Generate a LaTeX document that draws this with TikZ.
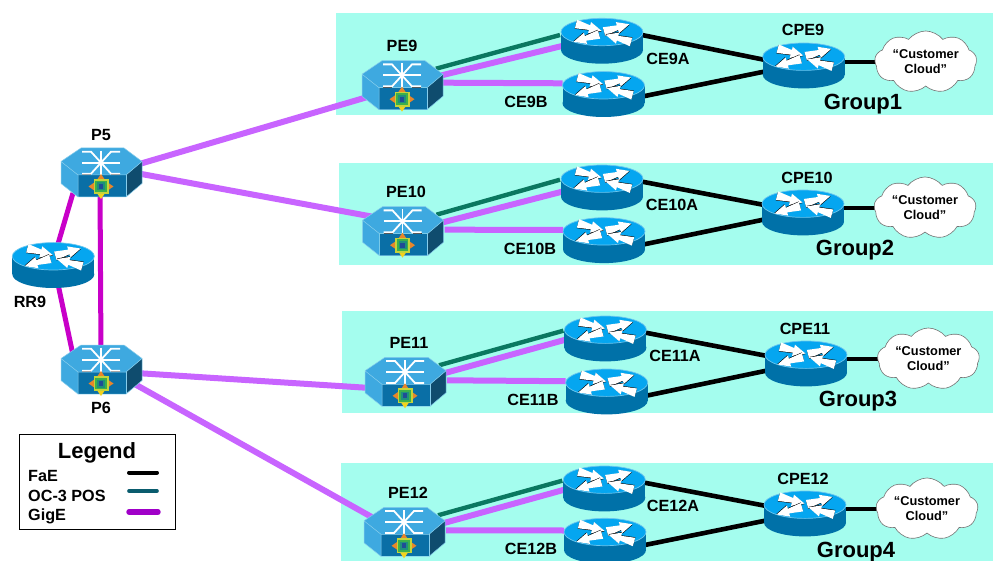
\documentclass[tikz,border=0pt]{standalone}
\usepackage{fontspec}
\setmainfont{Liberation Sans}
\usetikzlibrary{shapes.symbols}
\definecolor{panel}{HTML}{A4FDEE}
\definecolor{hextop}{HTML}{3EA9E0}
\definecolor{hexfront}{HTML}{0A6FA6}
\definecolor{hexside}{HTML}{0F4C6E}
\definecolor{hexedge}{HTML}{86CDEC}
\definecolor{rtop}{HTML}{05A6F0}
\definecolor{rside}{HTML}{0071A8}
\definecolor{redge}{HTML}{6CC6EE}
\definecolor{gige}{HTML}{C864FF}
\definecolor{core}{HTML}{C800C8}
\definecolor{oc}{HTML}{0A7860}
\definecolor{legoc}{HTML}{0A5C6E}
\definecolor{leggig}{HTML}{A000C8}
\definecolor{icona}{HTML}{C4D43A}
\definecolor{iconb}{HTML}{3CB04A}
\definecolor{iconc}{HTML}{1E8F7C}
\definecolor{icond}{HTML}{1F4C96}
\definecolor{icone}{HTML}{E8862A}
\definecolor{iconf}{HTML}{F2D21E}
\tikzset{
  x=1pt,y=-1pt,
  anchorbox/.style={inner sep=0pt,outer sep=0pt,minimum width=80pt,minimum height=48pt},
  lbl/.style={font=\fontsize{16.2}{18}\selectfont\bfseries,inner sep=0pt},
  grouplbl/.style={font=\fontsize{22}{24}\selectfont\bfseries,inner sep=0pt},
  legtxt/.style={font=\fontsize{16.2}{18}\selectfont\bfseries,inner sep=0pt,anchor=west},
  fae/.style={line width=4.6pt,black},
  posl/.style={line width=4.4pt,oc},
  gigl/.style={line width=6pt,gige},
  corel/.style={line width=5pt,core},
  custcloud/.style={cloud,cloud puffs=9,cloud puff arc=105,aspect=1.9,draw=black!55,line width=.6pt,fill=white,
    minimum width=102pt,minimum height=56pt,inner sep=0pt,align=center,
    font=\fontsize{12.8}{15}\selectfont\bfseries},
  rarrow/.pic={
    \fill[black] (0,-3.9) -- (14.4,-1.9) -- (14.4,-5.3) -- (26.6,.5) -- (14.4,6.3) -- (14.4,2.9) -- (0,4.9) -- cycle;
    \fill[white] (0,-4.4) -- (14,-2.4) -- (14,-5.8) -- (26.4,0) -- (14,5.8) -- (14,2.4) -- (0,4.4) -- cycle;
  },
  routerdev/.pic={
    \fill[rside] (-41,0) rectangle (41,18);
    \fill[rside] (0,18) ellipse[x radius=41,y radius=13.7];
    \fill[rtop,draw=redge,line width=.7pt] (0,0) ellipse[x radius=41,y radius=13.7];
    \pic[shift={(-26,-8)},rotate=-15] {rarrow};
    \pic[shift={(2,-.5)},rotate=16] {rarrow};
    \pic[shift={(-3,2.5)},rotate=196] {rarrow};
    \pic[shift={(29,10)},rotate=164] {rarrow};
  },
  hexdev/.pic={
    \begin{scope}[shift={(0,-25)}]
    \fill[hexfront] (-23,27) -- (25,27) -- (25,49) -- (-23,49) -- cycle;
    \fill[hexside] (25,27) -- (41,13.5) -- (41,35.5) -- (25,49) -- cycle;
    \fill[hextop] (-40,13.5) -- (-20,0) -- (23,0) -- (41,13.5) -- (25,27) -- (-23,27) -- cycle;
    \fill[hextop] (-40,13.5) -- (-23,27) -- (-23,49) -- (-40,35.5) -- cycle;
    \draw[hexedge,line width=.5pt,line join=round] (-23,49) -- (-40,35.5) -- (-40,13.5) -- (-20,0) -- (23,0) -- (41,13.5) -- (25,27) -- (-23,27) -- (-40,13.5);
    \draw[hexedge,line width=.5pt] (-23,27) -- (-23,49) -- (25,49) -- (41,35.5) -- (41,13.5);
    \draw[hexedge,line width=.5pt] (25,27) -- (25,49);
    \begin{scope}[shift={(0,14.7)}]
      \draw[black,line width=1pt] (-19,11.8) -- (-10,11.8) (10,11.8) -- (19,11.8);
      \draw[white,line width=1.8pt] (-19,0) -- (19,0);
      \draw[white,line width=1.8pt] (0,-12) -- (0,12);
      \draw[white,line width=1.8pt] (-19,-11) -- (-10,-11) -- (10,11) -- (19,11);
      \draw[white,line width=1.8pt] (-19,11) -- (-10,11) -- (10,-11) -- (19,-11);
    \end{scope}
    \begin{scope}[shift={(0,38.5)}]
      \fill[icone] (-12.5,0) -- (-7,-3.8) -- (-7,3.8) -- cycle;
      \fill[icone] (12.5,0) -- (7,-3.8) -- (7,3.8) -- cycle;
      \fill[icone] (0,-12.5) -- (-3.8,-7) -- (3.8,-7) -- cycle;
      \fill[iconf] (0,12.5) -- (-3.8,7) -- (3.8,7) -- cycle;
      \fill[icona] (-7.5,-7.5) rectangle (7.5,7.5);
      \fill[iconb] (-5.8,-5.8) rectangle (5.8,5.8);
      \fill[iconc] (-4,-4) rectangle (4,4);
      \fill[icond] (-2.4,-2.4) rectangle (2.4,2.4);
    \end{scope}
    \end{scope}
  },
}
\newcommand{\off}[3]{([shift={(#2,#3)}]#1.center)}
\begin{document}
\begin{tikzpicture}
\useasboundingbox (0,0) rectangle (993,561);
\fill[white] (0,0) rectangle (993,561);
% panels
\fill[panel] (336,13) rectangle (993,115);
\fill[panel] (339,163) rectangle (993,265);
\fill[panel] (342,311) rectangle (993,413);
\fill[panel] (341,463) rectangle (993,561);
% device anchors
\node[anchorbox] (P5) at (101,173) {};
\node[anchorbox] (P6) at (101,370) {};
\node[anchorbox] (RR9) at (53.3,256.3) {};
\node[anchorbox] (PE9) at (402,85.7) {};
\node[anchorbox] (CE9A) at (602,32) {};
\node[anchorbox] (CE9B) at (603.5,85.3) {};
\node[anchorbox] (CPE9) at (803.7,56.7) {};
\node[anchorbox] (PE10) at (402.5,231.7) {};
\node[anchorbox] (CE10A) at (602,178.7) {};
\node[anchorbox] (CE10B) at (604,231.4) {};
\node[anchorbox] (CPE10) at (803,203.7) {};
\node[anchorbox] (PE11) at (405,382.3) {};
\node[anchorbox] (CE11A) at (605.4,329.7) {};
\node[anchorbox] (CE11B) at (606.7,382.7) {};
\node[anchorbox] (CPE11) at (806,354.7) {};
\node[anchorbox] (PE12) at (404,532.3) {};
\node[anchorbox] (CE12A) at (604.3,479.7) {};
\node[anchorbox] (CE12B) at (605,532) {};
\node[anchorbox] (CPE12) at (805,504.7) {};
% core links
\draw[corel] \off{P5}{-28}{20} -- \off{RR9}{4}{-10};
\draw[corel] \off{RR9}{2}{15} -- \off{P6}{-28}{-15};
\draw[corel] \off{P5}{-1}{15} -- \off{P6}{0}{-15};
\draw[gigl] \off{P5}{35}{-8} -- \off{PE9}{-30}{10};
\draw[gigl] \off{P5}{35}{0} -- \off{PE10}{-30}{-15};
\draw[gigl] \off{P6}{35}{3} -- \off{PE11}{-30}{6};
\draw[gigl] \off{P6}{30}{12} -- \off{PE12}{-30}{-14};
% group 1
\draw[posl] \off{PE9}{34}{-17} -- \off{CE9A}{-42}{3};
\draw[gigl] \off{PE9}{38}{-10} -- \off{CE9A}{-40}{14};
\draw[gigl] \off{PE9}{41}{-3} -- \off{CE9B}{-41}{-2};
\draw[fae] \off{CE9A}{35}{2} -- \off{CPE9}{-35}{4};
\draw[fae] \off{CE9B}{35}{12} -- \off{CPE9}{-35}{14};
% group 2
\draw[posl] \off{PE10}{34}{-17} -- \off{CE10A}{-42}{1};
\draw[gigl] \off{PE10}{39}{-9} -- \off{CE10A}{-40}{13};
\draw[gigl] \off{PE10}{42}{-2} -- \off{CE10B}{-41}{-1.5};
\draw[fae] \off{CE10A}{35}{2} -- \off{CPE10}{-35}{2};
\draw[fae] \off{CE10B}{35}{14} -- \off{CPE10}{-35}{15};
% group 3
\draw[posl] \off{PE11}{34}{-17} -- \off{CE11A}{-42}{1};
\draw[gigl] \off{PE11}{39}{-9} -- \off{CE11A}{-40}{10};
\draw[gigl] \off{PE11}{42}{-2} -- \off{CE11B}{-41}{-1.5};
\draw[fae] \off{CE11A}{35}{2} -- \off{CPE11}{-35}{2};
\draw[fae] \off{CE11B}{35}{14} -- \off{CPE11}{-35}{15};
% group 4
\draw[posl] \off{PE12}{34}{-17} -- \off{CE12A}{-42}{1};
\draw[gigl] \off{PE12}{39}{-9} -- \off{CE12A}{-40}{10};
\draw[gigl] \off{PE12}{42}{-2} -- \off{CE12B}{-41}{-1.5};
\draw[fae] \off{CE12A}{35}{2} -- \off{CPE12}{-35}{2};
\draw[fae] \off{CE12B}{35}{14} -- \off{CPE12}{-35}{15};
% clouds
\coordinate (C9in) at (925.7,62);
\coordinate (C10in) at (925,208);
\coordinate (C11in) at (928.4,359);
\coordinate (C12in) at (927,509);
\draw[fae] \off{CPE9}{35}{5.3} -- (C9in);
\draw[fae] \off{CPE10}{35}{4.3} -- (C10in);
\draw[fae] \off{CPE11}{35}{4.3} -- (C11in);
\draw[fae] \off{CPE12}{35}{4.3} -- (C12in);
\node[custcloud] (C9) at (C9in) {“Customer\\Cloud”};
\node[custcloud] (C10) at (C10in) {“Customer\\Cloud”};
\node[custcloud] (C11) at (C11in) {“Customer\\Cloud”};
\node[custcloud] (C12) at (C12in) {“Customer\\Cloud”};
% devices
\foreach \n in {P5,P6,PE9,PE10,PE11,PE12}{\pic at (\n.center) {hexdev};}
\foreach \n in {RR9,CE9A,CE9B,CPE9,CE10A,CE10B,CPE10,CE11A,CE11B,CPE11,CE12A,CE12B,CPE12}{\pic at (\n.center) {routerdev};}
% labels
\node[lbl] (lP5) at (101,135) {P5};
\node[lbl] (lP6) at (101,408) {P6};
\node[lbl] (lRR9) at (30,302) {RR9};
\node[lbl] (lPE9) at (402,46) {PE9};
\node[lbl] (lCE9A) at (668,59) {CE9A};
\node[lbl] (lCE9B) at (526,102) {CE9B};
\node[lbl] (lCPE9) at (803,30) {CPE9};
\node[grouplbl] (g1) at (863,104) {Group1};
\node[lbl] (lPE10) at (406,192) {PE10};
\node[lbl] (lCE10A) at (672,205) {CE10A};
\node[lbl] (lCE10B) at (530,249) {CE10B};
\node[lbl] (lCPE10) at (807,178) {CPE10};
\node[grouplbl] (g2) at (855,250) {Group2};
\node[lbl] (lPE11) at (409,343) {PE11};
\node[lbl] (lCE11A) at (675,356) {CE11A};
\node[lbl] (lCE11B) at (533,400) {CE11B};
\node[lbl] (lCPE11) at (805,329) {CPE11};
\node[grouplbl] (g3) at (858,401) {Group3};
\node[lbl] (lPE12) at (408,493) {PE12};
\node[lbl] (lCE12A) at (673,506) {CE12A};
\node[lbl] (lCE12B) at (531,549) {CE12B};
\node[lbl] (lCPE12) at (803,479) {CPE12};
\node[grouplbl] (g4) at (856,552) {Group4};
% legend
\node[draw=black,line width=.8pt,fill=white,minimum width=156pt,minimum height=95pt,inner sep=0pt] (legend) at (97,481.5) {};
\node[grouplbl] (legt) at (97,453) {Legend};
\node[legtxt] (lf) at (28,476) {FaE};
\node[legtxt] (lo) at (28,496) {OC-3 POS};
\node[legtxt] (lg) at (28,516) {GigE};
\coordinate (a1) at (129,472.5); \coordinate (a2) at (157,472.5);
\coordinate (b1) at (129,491); \coordinate (b2) at (157,491);
\coordinate (c1) at (129,512); \coordinate (c2) at (158,512);
\draw[line width=4pt,black,line cap=round] (a1) -- (a2);
\draw[line width=3.6pt,legoc,line cap=round] (b1) -- (b2);
\draw[line width=5.4pt,leggig,line cap=round] (c1) -- (c2);
\end{tikzpicture}
\end{document}
